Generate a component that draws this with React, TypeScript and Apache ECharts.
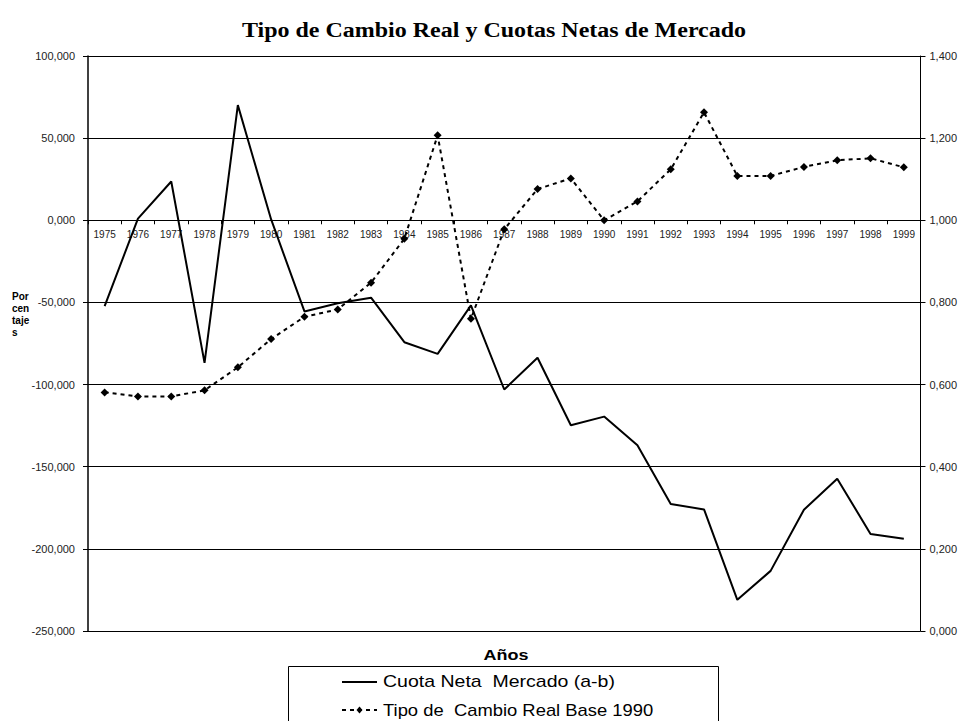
import React, { useEffect, useRef } from "react";
import * as echarts from "echarts";

// Years on the category axis
const years = [
  "1975", "1976", "1977", "1978", "1979", "1980", "1981", "1982", "1983",
  "1984", "1985", "1986", "1987", "1988", "1989", "1990", "1991", "1992",
  "1993", "1994", "1995", "1996", "1997", "1998", "1999",
];

// Cuota neta de mercado (a-b), porcentajes (eje izquierdo)
const cuotaNeta = [
  -52.2, 1.0, 23.6, -86.8, 70.1, 0.5, -55.5, -50.5, -47.1, -74.2, -81.3,
  -51.8, -103.0, -83.7, -124.8, -119.5, -137.0, -172.7, -176.0, -231.0,
  -213.4, -176.2, -157.3, -190.9, -193.9,
];

// Tipo de cambio real, base 1990 = 1 (eje derecho)
const tipoCambio = [
  0.581, 0.571, 0.571, 0.586, 0.642, 0.711, 0.765, 0.783, 0.848, 0.955,
  1.207, 0.76, 0.978, 1.076, 1.102, 1.0, 1.046, 1.124, 1.263, 1.108, 1.108,
  1.13, 1.146, 1.151, 1.129,
];

const seriesNames = ["Cuota Neta  Mercado (a-b)", "Tipo de  Cambio Real Base 1990"];

// Axis ranges
const leftMin = -250;
const leftMax = 100;
const leftStep = 50;
const rightMin = 0;
const rightMax = 1.4;
const rightStep = 0.2;

const fmt3 = (v: number) => v.toFixed(3).replace(".", ",");

export default function App() {
  const ref = useRef<HTMLDivElement>(null);

  useEffect(() => {
    if (!ref.current) return;
    const chart = echarts.init(ref.current, undefined, { renderer: "svg" });
    const sans = "Arial, 'Liberation Sans', sans-serif";

    const H = 721;
    const gridTop = 56;
    const gridBottom = 90;
    const plotH = H - gridTop - gridBottom;
    // the category axis crosses the left value axis at zero
    const zeroOffset = -(plotH * (0 - leftMin)) / (leftMax - leftMin);

    // legend drawn as a framed box below the plot
    const legX = 342;
    const legW = 35;
    const row1 = 682;
    const row2 = 710;

    chart.setOption({
      animation: false,
      backgroundColor: "#ffffff",
      grid: { left: 88, right: 37, top: gridTop, bottom: gridBottom, containLabel: false },
      graphic: [
        {
          type: "text",
          x: 494,
          y: 30,
          scaleX: 1.2,
          style: {
            text: "Tipo de Cambio Real y Cuotas Netas de Mercado",
            font: "bold 20px 'Liberation Serif', 'Times New Roman', serif",
            fill: "#000",
            textAlign: "center",
            textVerticalAlign: "middle",
          },
        },
        {
          type: "text",
          x: 12,
          y: 290,
          style: {
            text: "Por\ncen\ntaje\ns",
            font: `bold 10px ${sans}`,
            lineHeight: 12,
            fill: "#000",
            textAlign: "left",
          },
        },
        {
          type: "text",
          x: 506,
          y: 655,
          scaleX: 1.2,
          style: {
            text: "Años",
            font: `bold 15px ${sans}`,
            fill: "#000",
            textAlign: "center",
            textVerticalAlign: "middle",
          },
        },
        {
          type: "rect",
          shape: { x: 288.5, y: 666.5, width: 430, height: 80 },
          style: { fill: "#fff", stroke: "#000", lineWidth: 1 },
        },
        {
          type: "line",
          shape: { x1: legX, y1: row1, x2: legX + legW, y2: row1 },
          style: { stroke: "#000", lineWidth: 2 },
        },
        {
          type: "text",
          x: 383,
          y: row1,
          scaleX: 1.22,
          style: {
            text: seriesNames[0],
            font: `16px ${sans}`,
            fill: "#000",
            textAlign: "left",
            textVerticalAlign: "middle",
          },
        },
        {
          type: "line",
          shape: { x1: legX, y1: row2, x2: legX + legW, y2: row2 },
          style: { stroke: "#000", lineWidth: 2, lineDash: [4, 4] },
        },
        {
          type: "polygon",
          shape: {
            points: [
              [legX + legW / 2, row2 - 3.5],
              [legX + legW / 2 + 3, row2],
              [legX + legW / 2, row2 + 3.5],
              [legX + legW / 2 - 3, row2],
            ],
          },
          style: { fill: "#000" },
        },
        {
          type: "text",
          x: 383,
          y: row2,
          scaleX: 1.15,
          style: {
            text: seriesNames[1],
            font: `16px ${sans}`,
            fill: "#000",
            textAlign: "left",
            textVerticalAlign: "middle",
          },
        },
      ],
      xAxis: {
        type: "category",
        data: years,
        boundaryGap: true,
        position: "bottom",
        offset: zeroOffset,
        axisLine: {
          onZero: false,
          lineStyle: { color: "#000", width: 1 },
        },
        axisTick: {
          show: true,
          alignWithLabel: false,
          length: 4,
          lineStyle: { color: "#000" },
        },
        axisLabel: {
          interval: 0,
          margin: 9,
          fontFamily: sans,
          fontSize: 10,
          color: "#222",
        },
        splitLine: { show: false },
      },
      yAxis: [
        {
          type: "value",
          min: leftMin,
          max: leftMax,
          interval: leftStep,
          position: "left",
          axisLine: { show: true, lineStyle: { color: "#000", width: 1.5 } },
          axisTick: { show: true, length: 5, lineStyle: { color: "#000" } },
          axisLabel: {
            margin: 13,
            fontFamily: sans,
            fontSize: 11,
            color: "#222",
            formatter: (v: number) => fmt3(v),
          },
          splitLine: { show: true, lineStyle: { color: "#000", width: 1 } },
        },
        {
          type: "value",
          min: rightMin,
          max: rightMax,
          interval: rightStep,
          position: "right",
          axisLine: { show: true, lineStyle: { color: "#000", width: 1 } },
          axisTick: { show: true, length: 5, lineStyle: { color: "#000" } },
          axisLabel: {
            margin: 9,
            fontFamily: sans,
            fontSize: 11,
            color: "#222",
            formatter: (v: number) => fmt3(v),
          },
          splitLine: { show: false },
        },
      ],
      series: [
        {
          name: seriesNames[0],
          type: "line",
          yAxisIndex: 0,
          data: cuotaNeta,
          symbol: "none",
          lineStyle: { color: "#000", width: 2, type: "solid" },
          itemStyle: { color: "#000" },
          z: 3,
        },
        {
          name: seriesNames[1],
          type: "line",
          yAxisIndex: 1,
          data: tipoCambio,
          symbol: "diamond",
          symbolSize: 8,
          lineStyle: { color: "#000", width: 2, type: [4, 4] },
          itemStyle: { color: "#000" },
          z: 4,
        },
      ],
    });

    return () => chart.dispose();
  }, []);

  return (
    <div
      ref={ref}
      style={{ position: "fixed", left: 0, top: 0, width: 960, height: 721 }}
    />
  );
}
